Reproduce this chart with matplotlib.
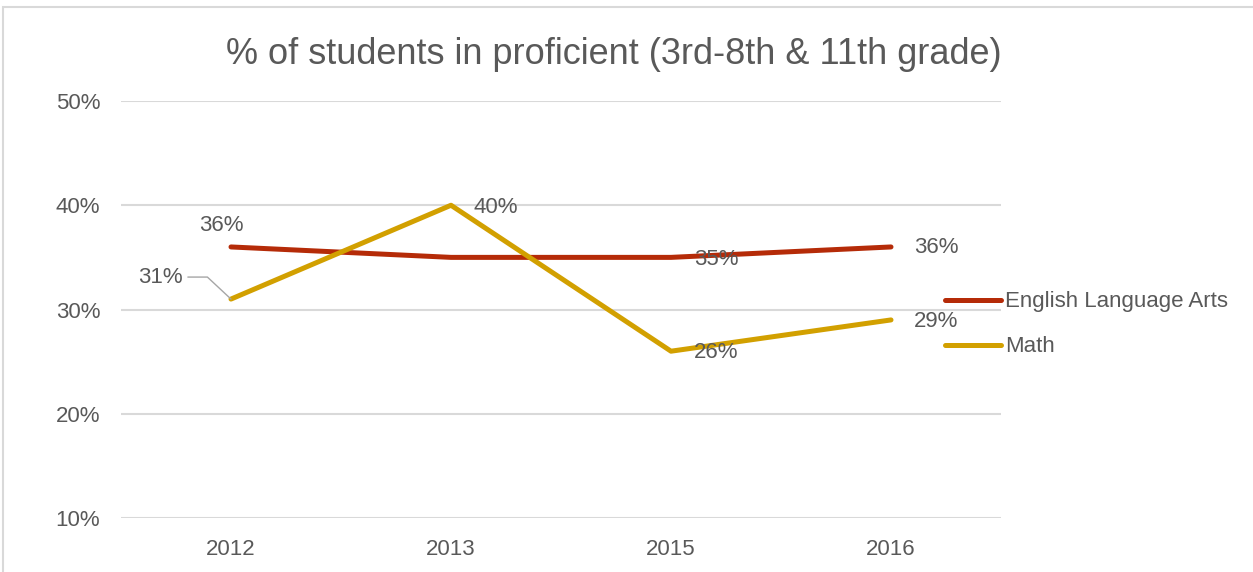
import matplotlib
matplotlib.use("Agg")
import matplotlib.pyplot as plt
from matplotlib.patches import Rectangle

# Datos
years = ["2012", "2013", "2015", "2016"]
ela = [0.36, 0.35, 0.35, 0.36]
math_ = [0.31, 0.40, 0.26, 0.29]
ela_labels = ["36%", None, "35%", "36%"]
math_labels = ["31%", "40%", "26%", "29%"]
title = "% of students in proficient (3rd-8th & 11th grade)"

plt.rcParams['font.family'] = ['Liberation Sans', 'DejaVu Sans']
txt = '#595959'
red = '#B52B08'
gold = '#D2A000'

fig = plt.figure(figsize=(12.53, 5.72), dpi=100)
ax = fig.add_axes([121 / 1253, 54 / 572, 880 / 1253, 417 / 572])

x = list(range(len(years)))
ax.plot(x, ela, color=red, lw=3.6, solid_capstyle='round', label='English Language Arts', zorder=3)
ax.plot(x, math_, color=gold, lw=3.6, solid_capstyle='round', label='Math', zorder=3)

ax.set_xlim(-0.5, 3.5)
ax.set_ylim(0.1, 0.5)
ax.set_yticks([0.1, 0.2, 0.3, 0.4, 0.5])
ax.set_yticklabels(['10%', '20%', '30%', '40%', '50%'])
ax.set_xticks(x)
ax.set_xticklabels(years)
ax.tick_params(length=0, labelsize=16, colors=txt)
ax.tick_params(axis='y', pad=15)
ax.tick_params(axis='x', pad=15)
ax.grid(axis='y', color='#D9D9D9', lw=1.5)
ax.set_axisbelow(True)
for s in ax.spines.values():
    s.set_visible(False)

# Etiquetas de datos
ela_off = [(-10, 21), None, (45, -2), (45, -1)]
math_off = [(-71, 22), (45, -2), (45, -1), (45, -2)]
for i in x:
    if ela_labels[i]:
        ax.annotate(ela_labels[i], (i, ela[i]), xytext=ela_off[i], textcoords='offset pixels',
                    ha='center', va='center', fontsize=16, color=txt, zorder=4)
for i in x:
    if i == 0:
        ax.annotate(math_labels[i], (i, math_[i]), xytext=math_off[i], textcoords='offset pixels',
                    ha='center', va='center', fontsize=16, color=txt, zorder=4,
                    arrowprops=dict(arrowstyle='-', color='#A6A6A6', lw=1,
                                    shrinkA=2, shrinkB=0,
                                    connectionstyle='angle,angleA=0,angleB=137,rad=0'))
    else:
        ax.annotate(math_labels[i], (i, math_[i]), xytext=math_off[i], textcoords='offset pixels',
                    ha='center', va='center', fontsize=16, color=txt, zorder=4)

fig.text(614 / 1253, 1 - 55 / 572, title, fontsize=26, color=txt, ha='center', va='center')

leg = ax.legend(loc='center left', bbox_to_anchor=((945 - 121) / 880, (518 - 324.5) / 417),
                frameon=False, fontsize=16, handlelength=2.5, handletextpad=0.22,
                labelspacing=1.08, borderpad=0, borderaxespad=0)
for t in leg.get_texts():
    t.set_color(txt)

# Borde del gráfico
fig.patches.append(Rectangle((3 / 1253, -0.1), 1.2, 1.1 - 7 / 572, transform=fig.transFigure,
                             fill=False, ec='#D9D9D9', lw=1.5))

fig.savefig('out.png', dpi=100)
